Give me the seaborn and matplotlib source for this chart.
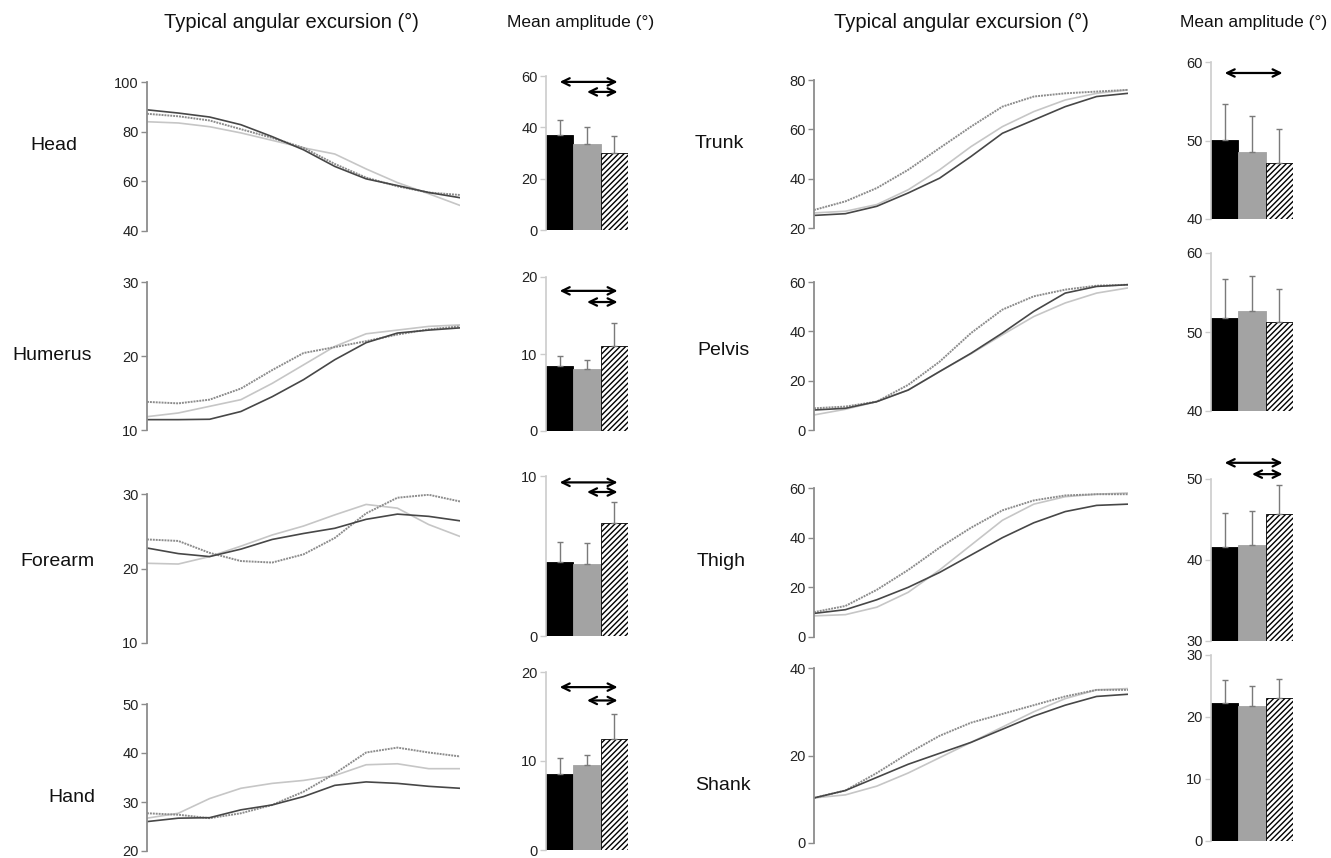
import numpy as np
import pandas as pd
import matplotlib
matplotlib.use("Agg")
import matplotlib.pyplot as plt
import seaborn as sns

# ---------------- data ----------------
t = [0, 10, 20, 30, 40, 50, 60, 70, 80, 90, 100]   # % of movement
groups = ["G1", "G2", "G3"]

# Typical angular excursion curves (deg): dark / light / dotted
head_dark   = [88.8, 87.5, 85.9, 82.8, 78.0, 72.7, 66.0, 61.0, 58.3, 55.5, 53.4]
head_light  = [84.0, 83.5, 82.0, 79.5, 76.5, 73.5, 71.0, 65.0, 59.5, 55.0, 50.3]
head_dot    = [87.2, 86.2, 84.5, 81.0, 77.5, 73.5, 67.0, 61.5, 58.0, 55.5, 54.5]

hum_dark    = [11.4, 11.4, 11.45, 12.5, 14.5, 16.8, 19.5, 21.8, 23.1, 23.5, 23.8]
hum_light   = [11.8, 12.3, 13.2, 14.1, 16.3, 18.8, 21.3, 23.0, 23.5, 24.0, 24.2]
hum_dot     = [13.8, 13.6, 14.1, 15.6, 18.1, 20.4, 21.2, 22.0, 22.9, 23.6, 24.0]

fore_dark   = [22.75, 22.0, 21.6, 22.6, 23.9, 24.7, 25.4, 26.6, 27.3, 27.0, 26.4]
fore_light  = [20.7, 20.6, 21.6, 23.0, 24.5, 25.7, 27.2, 28.6, 28.1, 25.9, 24.3]
fore_dot    = [23.9, 23.7, 22.1, 21.0, 20.8, 21.9, 24.1, 27.4, 29.5, 29.9, 29.0]

hand_dark   = [26.0, 26.7, 26.8, 28.4, 29.4, 31.1, 33.4, 34.1, 33.8, 33.2, 32.8]
hand_light  = [26.7, 27.7, 30.7, 32.8, 33.8, 34.4, 35.4, 37.6, 37.8, 36.8, 36.8]
hand_dot    = [27.7, 27.4, 26.7, 27.7, 29.4, 32.1, 35.8, 40.1, 41.1, 40.1, 39.3]

trunk_dark  = [25.1, 25.8, 28.8, 34.2, 40.2, 49.0, 58.4, 63.8, 69.2, 73.3, 74.6]
trunk_light = [26.1, 26.8, 29.5, 35.5, 43.6, 53.0, 61.1, 67.2, 71.9, 74.6, 76.0]
trunk_dot   = [27.3, 30.8, 36.2, 43.6, 52.4, 61.1, 69.2, 73.3, 74.6, 75.3, 76.0]

pelv_dark   = [8.1, 8.8, 11.5, 16.2, 23.7, 31.1, 39.3, 48.1, 55.5, 58.2, 58.9]
pelv_light  = [6.1, 8.4, 11.5, 16.2, 23.7, 30.9, 38.6, 46.0, 51.5, 55.5, 57.6]
pelv_dot    = [8.8, 9.5, 11.5, 18.3, 27.7, 39.3, 48.8, 54.2, 56.9, 58.5, 58.9]

thigh_dark  = [9.5, 11.0, 15.0, 20.0, 26.0, 33.0, 40.0, 46.0, 50.5, 53.0, 53.5]
thigh_light = [8.5, 9.0, 12.0, 18.0, 27.0, 37.0, 47.0, 53.5, 56.5, 57.5, 58.0]
thigh_dot   = [10.0, 12.5, 19.0, 27.0, 36.0, 44.0, 51.0, 55.0, 57.0, 57.5, 57.5]

shank_dark  = [10.3, 12.0, 15.0, 18.0, 20.5, 23.0, 26.0, 29.0, 31.5, 33.5, 34.0]
shank_light = [10.3, 11.0, 13.0, 16.0, 19.5, 23.0, 26.5, 30.0, 33.0, 35.0, 35.3]
shank_dot   = [10.3, 12.0, 16.0, 20.5, 24.5, 27.5, 29.5, 31.5, 33.5, 35.0, 35.0]

# Mean amplitude (deg) and upper end of the SD bar
head_mean  = [37.0, 33.5, 30.0];  head_top  = [43.0, 40.0, 36.5]
hum_mean   = [8.44, 8.05, 11.0];  hum_top   = [9.7, 9.2, 14.0]
fore_mean  = [4.6, 4.5, 7.05];    fore_top  = [5.9, 5.8, 8.4]
hand_mean  = [8.5, 9.5, 12.5];    hand_top  = [10.3, 10.7, 15.3]
trunk_mean = [50.1, 48.5, 47.1];  trunk_top = [54.7, 53.1, 51.5]
pelv_mean  = [51.8, 52.7, 51.3];  pelv_top  = [56.7, 57.1, 55.4]
thigh_mean = [41.6, 41.85, 45.7]; thigh_top = [45.8, 46.0, 49.3]
shank_mean = [22.3, 21.8, 23.1];  shank_top = [26.0, 25.0, 26.2]

# Significance arrows: heights of the long (G1-G3) and short (G2-G3) arrows
head_arrows  = [57.7, 53.8]
hum_arrows   = [18.2, 16.75]
fore_arrows  = [9.6, 9.0]
hand_arrows  = [18.3, 16.8]
trunk_arrows = [58.6]
pelv_arrows  = []
thigh_arrows = [52.0, 50.6]
shank_arrows = []

# ---------------- layout ----------------
W, H = 1331, 858
sns.set_theme(style="white")
plt.rcParams["font.family"] = ["Liberation Sans", "DejaVu Sans"]
fig = plt.figure(figsize=(W / 100, H / 100), dpi=100)


def box(x0, x1, ytop, ybot):
    return [x0 / W, 1 - ybot / H, (x1 - x0) / W, (ybot - ytop) / H]


DARK, LIGHT, MID = "#474747", "#c6c6c6", "#8c8c8c"


def line_panel(rect, dark, light, dot, ylim, ticks):
    ax = fig.add_axes(rect)
    sns.lineplot(x=t, y=light, ax=ax, color=LIGHT, lw=1.2)
    sns.lineplot(x=t, y=dot, ax=ax, color=MID, lw=1.4, linestyle=(0, (1, 0.5)))
    sns.lineplot(x=t, y=dark, ax=ax, color=DARK, lw=1.2)
    ax.set_xlim(0, 100)
    ax.set_ylim(*ylim)
    ax.set_yticks(ticks)
    ax.set_xticks([])
    for s in ("top", "right", "bottom"):
        ax.spines[s].set_visible(False)
    ax.spines["left"].set_color("#8c8c8c")
    ax.spines["left"].set_linewidth(1.3)
    ax.tick_params(axis="y", left=True, length=4, width=1, color="#8c8c8c",
                   labelsize=10.5, labelcolor="#222222", pad=2)
    ax.set_facecolor("none")
    return ax


def bar_panel(rect, mean, top, arrows, ylim, ticks):
    ax = fig.add_axes(rect)
    df = pd.DataFrame({"group": groups, "amp": mean})
    sns.barplot(data=df, x="group", y="amp", hue="group", ax=ax, width=1.0,
                palette=["black", "#a3a3a3", "white"], legend=False,
                edgecolor="black", linewidth=0.6)
    ax.patches[1].set_edgecolor("#a3a3a3")
    ax.patches[2].set_hatch("//////")
    for p in ax.patches:
        p.set_clip_on(True)
    err = np.array(top) - np.array(mean)
    ax.errorbar([0, 1, 2], mean, yerr=[np.zeros(3), err], fmt="none",
                ecolor="#7a7a7a", elinewidth=1.0, capsize=2.5, capthick=1.0)
    starts = [0.0, 1.0]
    for y, x0 in zip(arrows, starts):
        ax.annotate("", xy=(2.12, y), xytext=(x0, y), xycoords="data",
                    annotation_clip=False,
                    arrowprops=dict(arrowstyle="<->,head_length=0.45,head_width=0.22",
                                    color="black", lw=1.6, shrinkA=0, shrinkB=0))
    ax.set_xlim(-0.5, 2.5)
    ax.set_ylim(*ylim)
    ax.set_yticks(ticks)
    ax.set_xticks([])
    ax.set_xlabel("")
    ax.set_ylabel("")
    for s in ("top", "right", "bottom"):
        ax.spines[s].set_visible(False)
    ax.spines["left"].set_color("#cccccc")
    ax.spines["left"].set_linewidth(1.2)
    ax.tick_params(axis="y", left=True, length=4, width=1, color="#cccccc",
                   labelsize=10.5, labelcolor="#222222", pad=2)
    ax.set_facecolor("none")
    return ax


LX0, LX1, RX0, RX1 = 147, 460, 814, 1128
BL0, BL1, BR0, BR1 = 546, 628, 1211, 1293

line_panel(box(LX0, LX1, 82, 231), head_dark, head_light, head_dot, (40, 100), [40, 60, 80, 100])
line_panel(box(LX0, LX1, 282, 430), hum_dark, hum_light, hum_dot, (10, 30), [10, 20, 30])
line_panel(box(LX0, LX1, 494, 643), fore_dark, fore_light, fore_dot, (10, 30), [10, 20, 30])
line_panel(box(LX0, LX1, 704, 851), hand_dark, hand_light, hand_dot, (20, 50), [20, 30, 40, 50])

line_panel(box(RX0, RX1, 80, 228), trunk_dark, trunk_light, trunk_dot, (20, 80), [20, 40, 60, 80])
line_panel(box(RX0, RX1, 282, 430), pelv_dark, pelv_light, pelv_dot, (0, 60), [0, 20, 40, 60])
line_panel(box(RX0, RX1, 488, 637), thigh_dark, thigh_light, thigh_dot, (0, 60), [0, 20, 40, 60])
line_panel(box(RX0, RX1, 668, 843), shank_dark, shank_light, shank_dot, (0, 40), [0, 20, 40])

bar_panel(box(BL0, BL1, 76, 230), head_mean, head_top, head_arrows, (0, 60), [0, 20, 40, 60])
bar_panel(box(BL0, BL1, 277, 431), hum_mean, hum_top, hum_arrows, (0, 20), [0, 10, 20])
bar_panel(box(BL0, BL1, 476, 636), fore_mean, fore_top, fore_arrows, (0, 10), [0, 10])
bar_panel(box(BL0, BL1, 672, 850), hand_mean, hand_top, hand_arrows, (0, 20), [0, 10, 20])

bar_panel(box(BR0, BR1, 62, 219), trunk_mean, trunk_top, trunk_arrows, (40, 60), [40, 50, 60])
bar_panel(box(BR0, BR1, 253, 411), pelv_mean, pelv_top, pelv_arrows, (40, 60), [40, 50, 60])
bar_panel(box(BR0, BR1, 479, 641), thigh_mean, thigh_top, thigh_arrows, (30, 50), [30, 40, 50])
bar_panel(box(BR0, BR1, 655, 841), shank_mean, shank_top, shank_arrows, (0, 30), [0, 10, 20, 30])

# column headers
hdr = dict(color="#111111", ha="center", va="center")
fig.text(291 / W, 1 - 22 / H, "Typical angular excursion (°)", fontsize=14.5, **hdr)
fig.text(581 / W, 1 - 22 / H, "Mean amplitude (°)", fontsize=12.5, **hdr)
fig.text(961 / W, 1 - 22 / H, "Typical angular excursion (°)", fontsize=14.5, **hdr)
fig.text(1254 / W, 1 - 22 / H, "Mean amplitude (°)", fontsize=12.5, **hdr)

# segment labels
lab = dict(fontsize=14, color="#111111", va="center")
for name, x, y in [("Head", 30, 146), ("Humerus", 12, 356), ("Forearm", 20, 562), ("Hand", 48, 797),
                   ("Trunk", 695, 143), ("Pelvis", 697, 350), ("Thigh", 697, 562), ("Shank", 695, 785)]:
    fig.text(x / W, 1 - y / H, name, ha="left", **lab)

fig.savefig("out.png", dpi=100, facecolor="white")
